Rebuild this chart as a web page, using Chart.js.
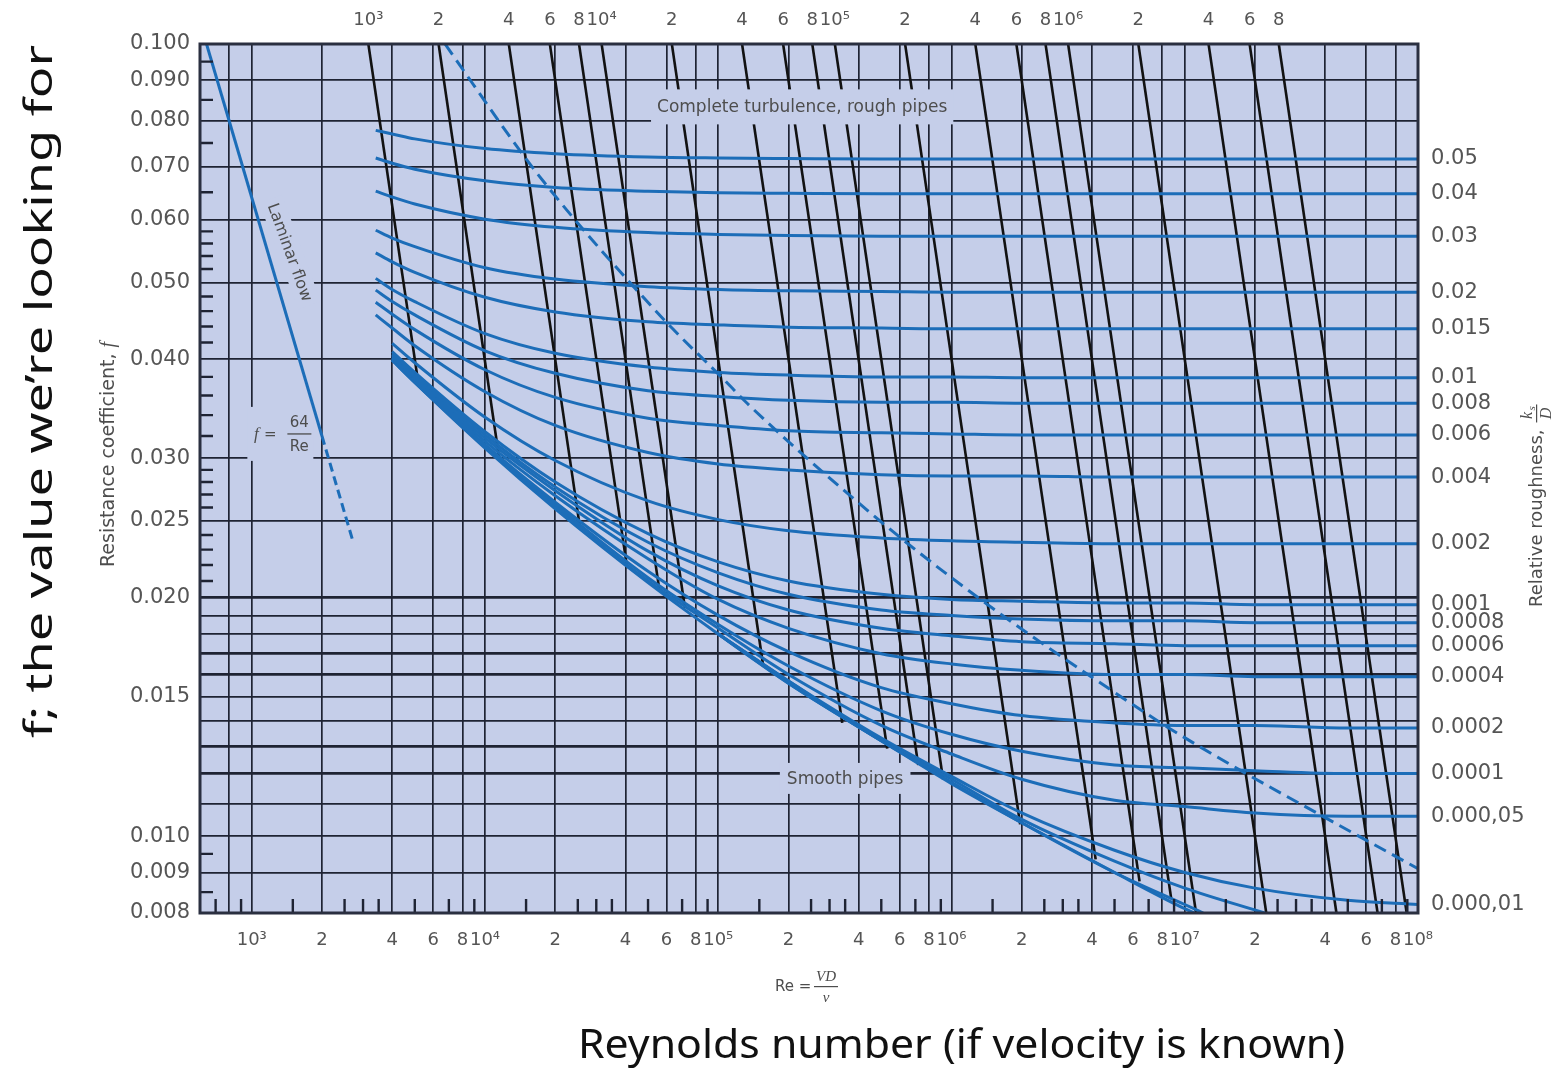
<!DOCTYPE html>
<html>
<head>
<meta charset="utf-8">
<title>Moody diagram</title>
<script src="https://cdn.jsdelivr.net/npm/chart.js@4.4.1/dist/chart.umd.min.js"></script>
<style>
  html, body { margin: 0; padding: 0; background: #ffffff; }
  #wrap { position: relative; width: 1558px; height: 1068px; }
</style>
</head>
<body>
<div id="wrap"><canvas id="moody" width="1558" height="1068"></canvas></div>
<script>
// Moody chart: resistance coefficient f against Re = VD/nu

// ---------- values ----------
const reGrid = [3400, 4000, 5000, 1e4, 2e4, 5e4, 1e5, 2e5, 5e5, 1e6, 2e6, 5e6, 1e7, 2e7, 5e7, 1e8];

const roughnessLabels = ["0.05", "0.04", "0.03", "0.02", "0.015", "0.01", "0.008", "0.006", "0.004",
  "0.002", "0.001", "0.0008", "0.0006", "0.0004", "0.0002", "0.0001", "0.000,05", "0.000,01",
  "0.000,005", "0.000,001"];

// f along reGrid for every relative roughness (null = curve not drawn there)
const fByRoughness = [
  [0.0778, 0.0770, 0.0759, 0.0738, 0.0727, 0.0720, 0.0718, 0.0717, 0.0716, 0.0716, 0.0716, 0.0716, 0.0716, 0.0716, 0.0716, 0.0716],
  [0.0718, 0.0707, 0.0695, 0.0672, 0.0659, 0.0652, 0.0649, 0.0648, 0.0647, 0.0647, 0.0647, 0.0647, 0.0647, 0.0647, 0.0647, 0.0647],
  [0.0652, 0.0641, 0.0628, 0.0601, 0.0587, 0.0578, 0.0575, 0.0573, 0.0572, 0.0572, 0.0572, 0.0572, 0.0572, 0.0572, 0.0572, 0.0572],
  [0.0582, 0.0569, 0.0555, 0.0522, 0.0505, 0.0494, 0.0490, 0.0488, 0.0487, 0.0486, 0.0486, 0.0486, 0.0486, 0.0486, 0.0486, 0.0486],
  [0.0545, 0.0531, 0.0515, 0.0479, 0.0459, 0.0446, 0.0442, 0.0439, 0.0438, 0.0437, 0.0437, 0.0437, 0.0437, 0.0437, 0.0437, 0.0437],
  [0.0506, 0.0490, 0.0473, 0.0431, 0.0407, 0.0391, 0.0385, 0.0382, 0.0380, 0.0380, 0.0379, 0.0379, 0.0379, 0.0379, 0.0379, 0.0379],
  [0.0489, 0.0473, 0.0455, 0.0410, 0.0384, 0.0365, 0.0359, 0.0355, 0.0353, 0.0353, 0.0352, 0.0352, 0.0352, 0.0352, 0.0352, 0.0352],
  [0.0472, 0.0456, 0.0436, 0.0388, 0.0358, 0.0337, 0.0330, 0.0325, 0.0323, 0.0322, 0.0321, 0.0321, 0.0321, 0.0321, 0.0321, 0.0321],
  [0.0455, 0.0438, 0.0416, 0.0364, 0.0330, 0.0305, 0.0295, 0.0290, 0.0286, 0.0285, 0.0285, 0.0284, 0.0284, 0.0284, 0.0284, 0.0284],
  [null, 0.0419, 0.0396, 0.0338, 0.0298, 0.0265, 0.0251, 0.0243, 0.0238, 0.0236, 0.0235, 0.0234, 0.0234, 0.0234, 0.0234, 0.0234],
  [null, 0.0409, 0.0385, 0.0324, 0.0280, 0.0241, 0.0222, 0.0210, 0.0202, 0.0199, 0.0198, 0.0197, 0.0197, 0.0196, 0.0196, 0.0196],
  [null, 0.0406, 0.0383, 0.0321, 0.0276, 0.0235, 0.0215, 0.0202, 0.0193, 0.0190, 0.0188, 0.0187, 0.0187, 0.0186, 0.0186, 0.0186],
  [null, 0.0404, 0.0380, 0.0318, 0.0273, 0.0229, 0.0207, 0.0193, 0.0183, 0.0179, 0.0176, 0.0175, 0.0174, 0.0174, 0.0174, 0.0174],
  [null, 0.0402, 0.0378, 0.0315, 0.0269, 0.0224, 0.0199, 0.0183, 0.0170, 0.0165, 0.0162, 0.0160, 0.0160, 0.0159, 0.0159, 0.0159],
  [null, 0.0401, 0.0376, 0.0312, 0.0264, 0.0216, 0.0190, 0.0171, 0.0154, 0.0147, 0.0142, 0.0139, 0.0138, 0.0138, 0.0137, 0.0137],
  [null, 0.0400, 0.0375, 0.0311, 0.0262, 0.0212, 0.0185, 0.0164, 0.0144, 0.01345, 0.0128, 0.0123, 0.0122, 0.0121, 0.0120, 0.0120],
  [null, 0.0399, 0.0374, 0.0310, 0.0260, 0.0210, 0.0183, 0.0160, 0.0138, 0.0127, 0.0118, 0.0111, 0.0109, 0.0107, 0.0106, 0.0106],
  [null, null, null, null, null, null, 0.0180, 0.0157, 0.0133, 0.0119, 0.0107, 0.0096, 0.0090, 0.0086, 0.0083, 0.0082],
  [null, null, null, null, null, null, 0.0180, 0.0157, 0.0132, 0.0118, 0.0105, 0.0093, 0.0086, null, null, null],
  [null, null, null, null, null, null, 0.0180, 0.0156, 0.0132, 0.0117, 0.0104, 0.0090, 0.0082, null, null, null]
];
// Re where a curve runs out through the bottom edge (f = 0.008)
const exitRe = [null, null, null, null, null, null, null, null, null, null, null, null, null, null, null, null, null, null, 2.2e7, 1.2e7];
const labelledCurves = 18;

const smoothF = [null, 0.0399, 0.0374, 0.0309, 0.0259, 0.0209, 0.0180, 0.0156, 0.0132, 0.01165, 0.0104, 0.0090, 0.0081, null, null, null];
const smoothExitRe = 1.1e7;

// laminar flow f = 64/Re (solid, then dashed)
const laminarRe = [640, 2000, 2700];
const laminarF = [0.100, 0.032, 0.0237];

// dashed border of the complete turbulence zone
const boundaryRe = [6740, 15000, 19650, 27900, 45300, 63800, 103000, 133000, 186000, 297000, 650000, 1.43e6, 2.53e6, 3.97e6, 8.54e6, 1.83e7, 3.9e7, 1e8];
const boundaryF = [0.100, 0.0716, 0.0647, 0.0572, 0.0487, 0.0437, 0.0380, 0.0352, 0.0321, 0.0284, 0.0234, 0.0196, 0.0174, 0.0159, 0.0137, 0.0120, 0.0106, 0.0091];

// black lines of constant Re*sqrt(f): start on the top edge, end on the smooth-pipe curve or bottom edge
const lineTopRe = [3162, 6325, 12650, 18970, 25300, 31620, 63250, 126500, 189700, 253000, 316200, 632500,
  1265000, 1897000, 2530000, 3162000, 6325000, 12650000, 18970000, 25300000];
const lineEndRe = [5200, 11500, 25600, 40700, 56000, 72000, 156000, 340000, 530000, 720000, 920000, 1970000,
  4150000, 6400000, 8750000, 11180000, 22360000, 44700000, 67100000, 89400000];
const lineEndF = [0.0370, 0.0300, 0.0244, 0.0218, 0.0204, 0.0194, 0.01638, 0.0139, 0.0129, 0.0123, 0.0118, 0.01035,
  0.00935, 0.00877, 0.00834, 0.008, 0.008, 0.008, 0.008, 0.008];

// axes
const reMin = 600, reMax = 1e8;
const fMin = 0.008, fMax = 0.1;
const bottomTicks = [800, 1e3, 2e3, 4e3, 6e3, 8e3, 1e4, 2e4, 4e4, 6e4, 8e4, 1e5, 2e5, 4e5, 6e5, 8e5,
  1e6, 2e6, 4e6, 6e6, 8e6, 1e7, 2e7, 4e7, 6e7, 8e7, 1e8];
const bottomLabels = ["", "10³", "2", "4", "6", "8", "10⁴", "2", "4", "6", "8", "10⁵", "2", "4", "6", "8",
  "10⁶", "2", "4", "6", "8", "10⁷", "2", "4", "6", "8", "10⁸"];
const bottomMinorTicks = [700, 900, 1500, 2500, 3000, 3500, 5000, 7000, 9000, 15000, 25000, 30000, 35000, 50000, 70000, 90000,
  1.5e5, 2.5e5, 3e5, 3.5e5, 5e5, 7e5, 9e5, 1.5e6, 2.5e6, 3e6, 3.5e6, 5e6, 7e6, 9e6, 1.5e7, 2.5e7, 3e7, 3.5e7, 5e7, 7e7, 9e7];
// top scale is Re*sqrt(f) read at f = 0.1
const topMin = 189.74, topMax = 3.1623e7;
const topTicks = [1e3, 2e3, 4e3, 6e3, 8e3, 1e4, 2e4, 4e4, 6e4, 8e4, 1e5, 2e5, 4e5, 6e5, 8e5, 1e6, 2e6, 4e6, 6e6, 8e6];
const topLabels = ["10³", "2", "4", "6", "8", "10⁴", "2", "4", "6", "8", "10⁵", "2", "4", "6", "8", "10⁶", "2", "4", "6", "8"];
const fGrid = [0.1, 0.09, 0.08, 0.07, 0.06, 0.05, 0.04, 0.03, 0.025, 0.02, 0.019, 0.018, 0.017, 0.016,
  0.015, 0.014, 0.013, 0.012, 0.011, 0.01, 0.009, 0.008];
const fLabelled = [0.1, 0.09, 0.08, 0.07, 0.06, 0.05, 0.04, 0.03, 0.025, 0.02, 0.015, 0.01, 0.009, 0.008];
const fHeavyGrid = [0.02, 0.017, 0.016, 0.013, 0.012];
const fMinorTicks = [0.095, 0.085, 0.075, 0.065, 0.058, 0.056, 0.054, 0.052, 0.048, 0.046, 0.044, 0.042,
  0.038, 0.036, 0.034, 0.032, 0.029, 0.028, 0.027, 0.026, 0.024, 0.023, 0.022, 0.021, 0.0095, 0.0085];

// ---------- styling ----------
const plotBg = "#c5cee9";
const gridColor = "#1e2333";
const curveBlue = "#1c6db8";
const textGray = "#4d4d4d";
const sans = '"DejaVu Sans", sans-serif';
const serifItalic = 'italic {s}px "Liberation Serif", serif';

// ---------- datasets ----------
const datasets = [];

roughnessLabels.forEach((lab, i) => {
  const pts = [];
  reGrid.forEach((re, j) => {
    const f = fByRoughness[i][j];
    if (f !== null) pts.push({ x: re, y: f });
  });
  if (exitRe[i]) pts.push({ x: exitRe[i], y: fMin });
  datasets.push({ label: "k/D = " + lab, data: pts, borderColor: curveBlue, borderWidth: 3, cubicInterpolationMode: "monotone" });
});

const smoothPts = [];
reGrid.forEach((re, j) => { if (smoothF[j] !== null) smoothPts.push({ x: re, y: smoothF[j] }); });
smoothPts.push({ x: smoothExitRe, y: fMin });
datasets.push({ label: "Smooth pipes", data: smoothPts, borderColor: curveBlue, borderWidth: 3, cubicInterpolationMode: "monotone" });

datasets.push({
  label: "Laminar", borderColor: curveBlue, borderWidth: 3,
  data: [{ x: laminarRe[0], y: laminarF[0] }, { x: laminarRe[1], y: laminarF[1] }]
});
datasets.push({
  label: "Laminar (extended)", borderColor: curveBlue, borderWidth: 3, borderDash: [9, 5],
  data: [{ x: laminarRe[1], y: laminarF[1] }, { x: laminarRe[2], y: laminarF[2] }]
});

datasets.push({
  label: "Complete turbulence boundary", borderColor: curveBlue, borderWidth: 3, borderDash: [13, 7],
  cubicInterpolationMode: "monotone",
  data: boundaryRe.map((re, i) => ({ x: re, y: boundaryF[i] }))
});

lineTopRe.forEach((re, i) => {
  datasets.push({
    label: "Re sqrt(f) " + topTicks[i], borderColor: "#121212", borderWidth: 2.6,
    data: [{ x: re, y: fMax }, { x: lineEndRe[i], y: lineEndF[i] }]
  });
});

// ---------- drawing helpers ----------
function italic(size) {
  return serifItalic.replace("{s}", size);
}

function boxedText(ctx, text, cx, cy, font, padX, padY, angle) {
  ctx.save();
  ctx.translate(cx, cy);
  if (angle) ctx.rotate(angle);
  ctx.font = font;
  const w = ctx.measureText(text).width;
  const h = parseInt(font.match(/(\d+)px/)[1], 10);
  ctx.fillStyle = plotBg;
  ctx.fillRect(-w / 2 - padX, -h / 2 - padY, w + 2 * padX, h + 2 * padY);
  ctx.fillStyle = textGray;
  ctx.textAlign = "center";
  ctx.textBaseline = "middle";
  ctx.fillText(text, 0, 1);
  ctx.restore();
}

function fittedText(ctx, text, x, y, width, size, angle) {
  ctx.save();
  ctx.translate(x, y);
  ctx.rotate(angle);
  ctx.font = size + 'px "Noto Sans", sans-serif';
  const w = ctx.measureText(text).width;
  ctx.scale(width / w, 1);
  ctx.fillStyle = "#111111";
  ctx.textAlign = "left";
  ctx.textBaseline = "alphabetic";
  ctx.fillText(text, 0, 0);
  ctx.restore();
}

const decor = {
  id: "decor",
  beforeDraw(chart) {
    const { ctx, chartArea: a } = chart;
    ctx.save();
    ctx.fillStyle = "#ffffff";
    ctx.fillRect(0, 0, chart.width, chart.height);
    ctx.fillStyle = plotBg;
    ctx.fillRect(a.left, a.top, a.right - a.left, a.bottom - a.top);
    ctx.restore();
  },
  beforeDatasetsDraw(chart) {
    const { ctx, scales } = chart;
    const x = scales.x, y = scales.y;
    // "Laminar flow" along the laminar line
    boxedText(ctx, "Laminar flow", x.getPixelForValue(1460), y.getPixelForValue(0.0546),
      "16px " + sans, 5, 4, 70 * Math.PI / 180);
    // f = 64/Re
    const cx = x.getPixelForValue(1600), cy = y.getPixelForValue(0.0322);
    ctx.save();
    ctx.fillStyle = plotBg;
    ctx.fillRect(cx - 52, cy - 27, 66, 54);
    ctx.fillStyle = textGray;
    ctx.textBaseline = "middle";
    ctx.textAlign = "center";
    ctx.font = italic(17);
    ctx.fillText("f", cx - 43, cy + 1);
    ctx.font = "15px " + sans;
    ctx.fillText("=", cx - 29, cy + 1);
    ctx.fillText("64", cx, cy - 11);
    ctx.fillText("Re", cx, cy + 13);
    ctx.fillRect(cx - 12, cy - 0.6, 24, 1.3);
    ctx.restore();
  },
  afterDatasetsDraw(chart) {
    const { ctx, chartArea: a, scales } = chart;
    const x = scales.x, y = scales.y;
    boxedText(ctx, "Complete turbulence, rough pipes", x.getPixelForValue(2.29e5), y.getPixelForValue(0.0833),
      "17px " + sans, 6, 9);
    boxedText(ctx, "Smooth pipes", x.getPixelForValue(3.5e5), y.getPixelForValue(0.01183),
      "17px " + sans, 7, 7);

    // short tick marks inside the left and bottom edges
    ctx.save();
    ctx.strokeStyle = gridColor;
    ctx.lineWidth = 2.4;
    ctx.beginPath();
    fMinorTicks.forEach(v => {
      const py = y.getPixelForValue(v);
      ctx.moveTo(a.left, py);
      ctx.lineTo(a.left + 13, py);
    });
    bottomMinorTicks.forEach(v => {
      const px = x.getPixelForValue(v);
      ctx.moveTo(px, a.bottom);
      ctx.lineTo(px, a.bottom - 14);
    });
    ctx.stroke();
    ctx.lineWidth = 3;
    ctx.strokeStyle = "#2a2f40";
    ctx.strokeRect(a.left, a.top, a.right - a.left, a.bottom - a.top);
    ctx.restore();
  },
  afterDraw(chart) {
    const { ctx } = chart;
    ctx.save();
    ctx.fillStyle = textGray;
    ctx.textBaseline = "alphabetic";
    ctx.textAlign = "left";

    // left axis title, reading upwards
    ctx.save();
    ctx.translate(114, 567);
    ctx.rotate(-Math.PI / 2);
    ctx.font = "19px " + sans;
    const t1 = "Resistance coefficient, ";
    ctx.fillText(t1, 0, 0);
    const w1 = ctx.measureText(t1).width;
    ctx.font = italic(20);
    ctx.fillText("f", w1, 0);
    ctx.restore();

    // right axis title with k_s / D
    ctx.save();
    ctx.translate(1542, 607);
    ctx.rotate(-Math.PI / 2);
    ctx.font = "18px " + sans;
    const t2 = "Relative roughness,";
    ctx.fillText(t2, 0, 0);
    const w2 = ctx.measureText(t2).width;
    const fx = w2 + 16;
    ctx.textAlign = "center";
    ctx.font = italic(16);
    ctx.fillText("k", fx - 2, -10);
    ctx.font = italic(11);
    ctx.fillText("s", fx + 5, -7);
    ctx.fillRect(fx - 9, -6, 18, 1.2);
    ctx.font = italic(16);
    ctx.fillText("D", fx, 9);
    ctx.restore();

    // Re = VD / nu
    ctx.font = "15px " + sans;
    ctx.textAlign = "left";
    ctx.fillText("Re =", 775, 991);
    ctx.textAlign = "center";
    ctx.font = italic(15);
    ctx.fillText("VD", 826, 981);
    ctx.fillRect(814, 986, 24, 1.2);
    ctx.fillText("ν", 826, 1002);
    ctx.restore();

    // presentation notes
    fittedText(ctx, "f; the value we’re looking for", 52, 738, 693, 38, -Math.PI / 2);
    fittedText(ctx, "Reynolds number (if velocity is known)", 578, 1058, 767, 40, 0);
  }
};

// ---------- chart ----------
const tickFont = { family: "DejaVu Sans", size: 18 };
const sideFont = { family: "DejaVu Sans", size: 21 };

new Chart(document.getElementById("moody"), {
  type: "line",
  data: { datasets },
  plugins: [decor],
  options: {
    responsive: false,
    animation: false,
    events: [],
    devicePixelRatio: 1,
    layout: { padding: 0 },
    elements: { point: { radius: 0 }, line: { fill: false } },
    plugins: { legend: { display: false }, tooltip: { enabled: false } },
    scales: {
      x: {
        type: "logarithmic", position: "bottom", min: reMin, max: reMax, bounds: "data",
        afterFit: s => { s.height = 155; },
        afterBuildTicks: s => { s.ticks = bottomTicks.map(v => ({ value: v })); },
        ticks: {
          autoSkip: false, maxRotation: 0, minRotation: 0, padding: 17, color: "#555555", font: tickFont,
          callback: (v, i) => bottomLabels[i]
        },
        grid: { color: gridColor, lineWidth: 1.7, drawTicks: false },
        border: { display: false }
      },
      xTop: {
        type: "logarithmic", position: "top", min: topMin, max: topMax, bounds: "data",
        afterFit: s => { s.height = 44; },
        afterBuildTicks: s => { s.ticks = topTicks.map(v => ({ value: v })); },
        ticks: {
          autoSkip: false, maxRotation: 0, minRotation: 0, padding: 13, color: "#555555", font: tickFont,
          callback: (v, i) => topLabels[i]
        },
        grid: { display: false, drawTicks: false },
        border: { display: false }
      },
      y: {
        type: "logarithmic", position: "left", min: fMin, max: fMax, bounds: "data",
        afterFit: s => { s.width = 200; },
        afterBuildTicks: s => { s.ticks = fGrid.map(v => ({ value: v })); },
        ticks: {
          autoSkip: false, padding: 10, color: "#555555", font: sideFont,
          callback: v => (fLabelled.includes(v) ? v.toFixed(3) : "")
        },
        grid: {
          color: gridColor, drawTicks: false,
          lineWidth: c => (c.tick && fHeavyGrid.includes(c.tick.value) ? 2.8 : 1.7)
        },
        border: { display: false }
      },
      yRight: {
        type: "logarithmic", position: "right", min: fMin, max: fMax, bounds: "data",
        afterFit: s => { s.width = 140; },
        afterBuildTicks: s => {
          s.ticks = fByRoughness.slice(0, labelledCurves).map(row => ({ value: row[row.length - 1] }));
        },
        ticks: {
          autoSkip: false, padding: 13, color: "#555555", font: sideFont,
          callback: (v, i) => roughnessLabels[i]
        },
        grid: { display: false, drawTicks: false },
        border: { display: false }
      }
    }
  }
});
</script>
</body>
</html>
